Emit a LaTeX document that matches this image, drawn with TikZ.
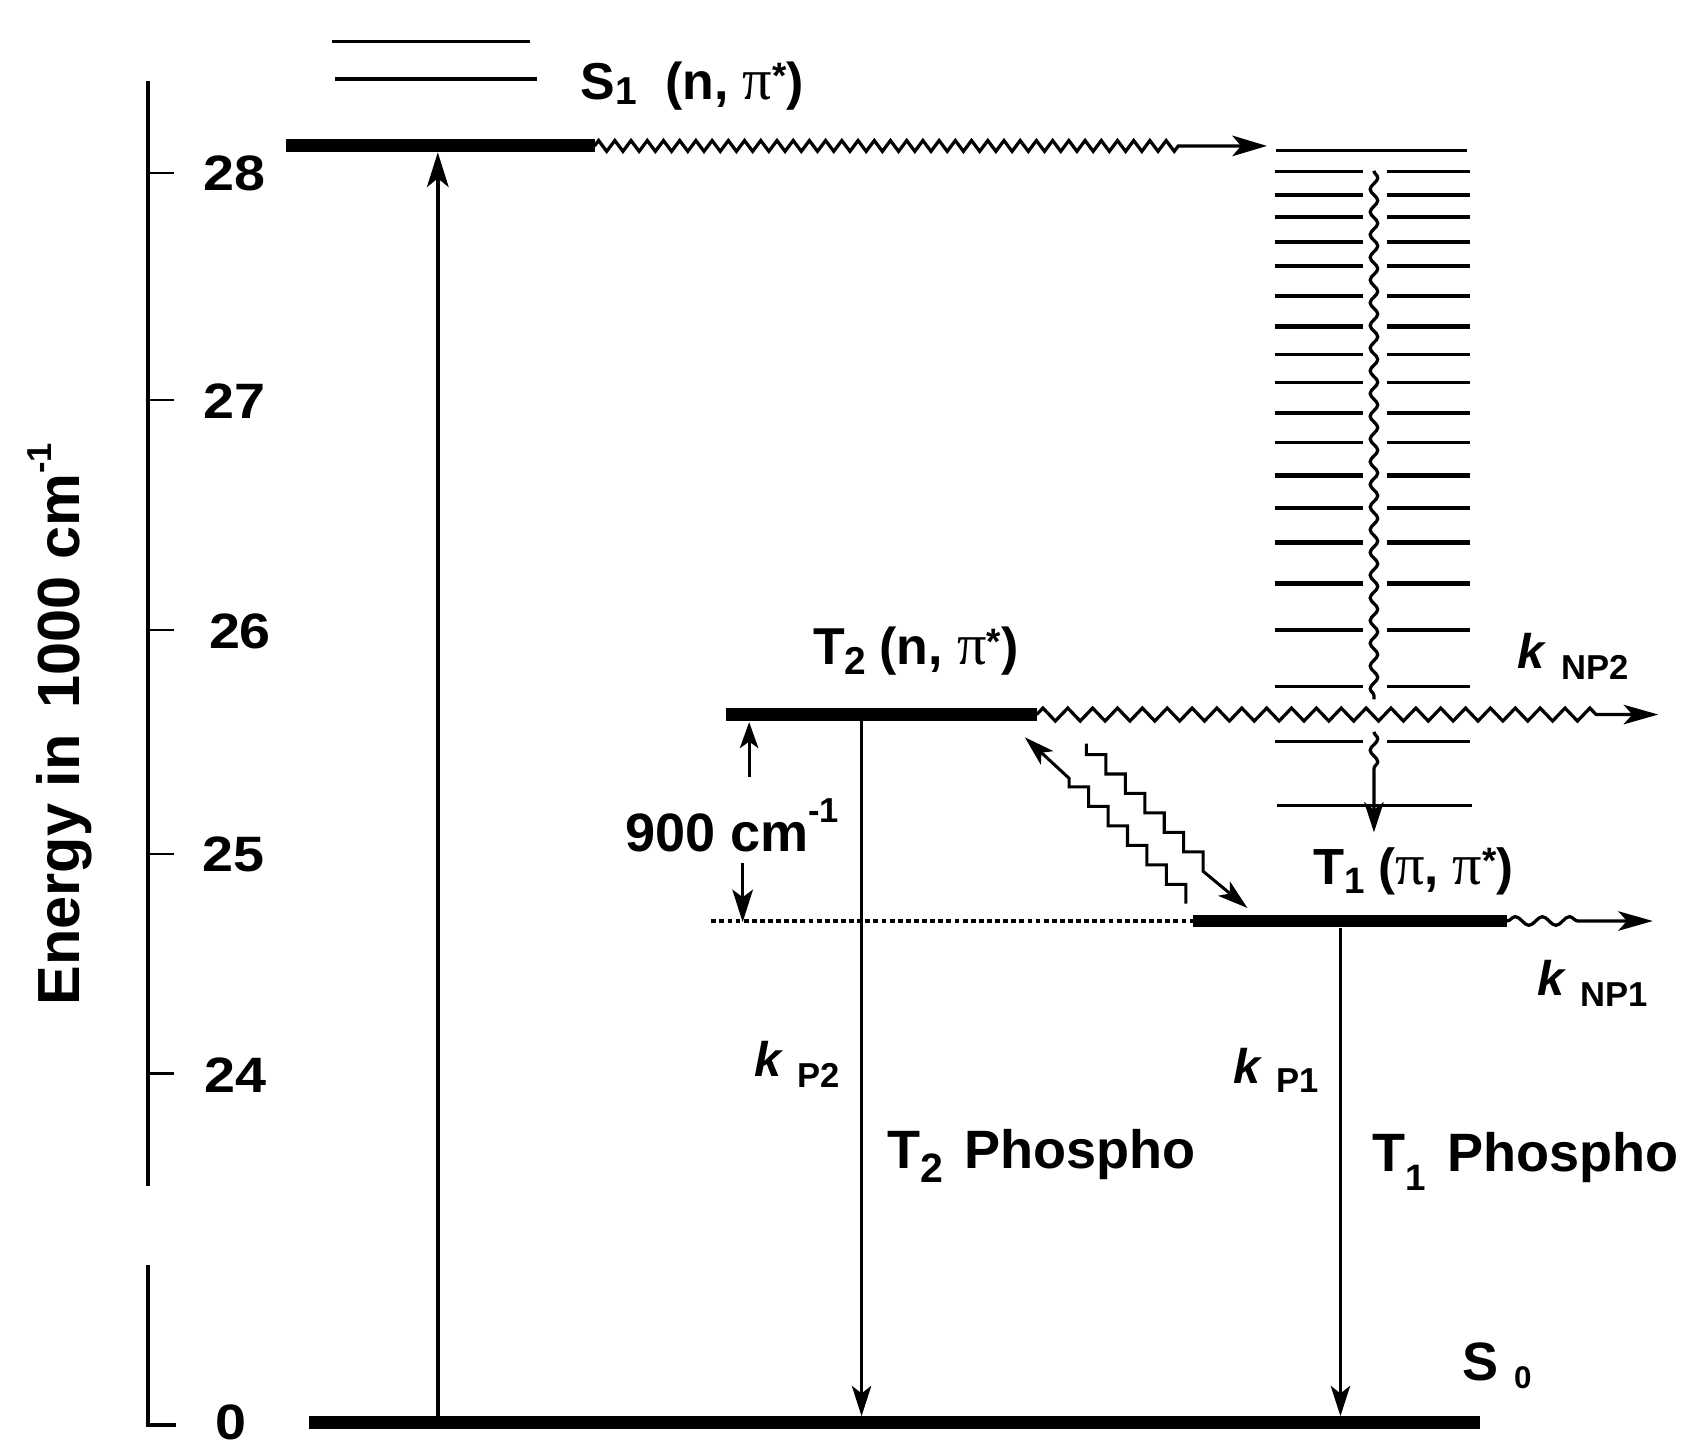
\documentclass[tikz,border=0pt]{standalone}
\usepackage{fontspec}
\setmainfont{Liberation Sans}
\newfontfamily\pif{Liberation Serif}
\usetikzlibrary{arrows.meta,decorations.pathmorphing}
\newcommand\fs[1]{\fontsize{#1pt}{#1pt}\selectfont}
\newcommand\lo[3]{\raisebox{-#1pt}{\fs{#2}#3}}
\newcommand\hi[3]{\raisebox{#1pt}{\fs{#2}#3}}
\newcommand\ppi{{\pif\mdseries\fs{54}π}}
\newcommand\wideit[1]{\scalebox{1.12}[1]{#1}}
\begin{document}
\begin{tikzpicture}[x=1pt,y=-1pt,
  axisline/.style={line width=3.8},
  tickline/.style={line width=2.2},
  lvl/.style={line width=12},
  bigarr/.style={line width=3.2,-{Stealth[length=32pt,width=20pt,inset=8pt]}},
  thinarr/.style={line width=2.4,-{Stealth[length=28pt,width=18pt,inset=7pt]}},
  diagarr/.style={line width=2.8},
  ticklab/.style={inner sep=0pt,font=\bfseries\fs{46}},
  txt/.style={inner sep=0pt,anchor=base west,font=\bfseries}]
\useasboundingbox (0,0) rectangle (1568,1346);

% ---- axis
\coordinate (axtop) at (137,75);
\coordinate (axmid) at (137,1097);
\coordinate (axlow) at (137,1170);
\coordinate (axbot) at (137,1318);
\coordinate (axbr) at (163,1318);
\draw[axisline] (axtop) -- (axmid);
\draw[axisline] (axlow) -- (axbot) -- (axbr);
\foreach \yy/\nm in {160/28,370/27,583/26,790/25,993/24}{
  \coordinate (tk\nm a) at (139,\yy);
  \coordinate (tk\nm b) at (161,\yy);
  \draw[tickline] (tk\nm a) -- (tk\nm b);
}
\node[ticklab] (l28) at (217,160) {\wideit{28}};
\node[ticklab] (l27) at (217,371) {\wideit{27}};
\node[ticklab] (l26) at (222,584) {\wideit{26}};
\node[ticklab] (l25) at (216,790) {\wideit{25}};
\node[ticklab] (l24) at (218,995) {\wideit{24}};
\node[ticklab] (l0) at (214,1316) {\wideit{0}};
\node[rotate=90,inner sep=0pt,font=\bfseries\fs{55}] (ylab) at (55,670)
  {Energy in\hspace{24pt}1000 cm\hi{26}{32}{-1}};

% ---- S1
\coordinate (v1a) at (307,38); \coordinate (v1b) at (490,38);
\coordinate (v2a) at (310,73); \coordinate (v2b) at (497,73);
\draw[line width=2.8] (v1a) -- (v1b);
\draw[line width=3.8] (v2a) -- (v2b);
\coordinate (s1L) at (265,135); \coordinate (s1R) at (550,135);
\draw[lvl] (s1L) -- (s1R);
\node[txt] (s1lab) at (537,92) {\fs{48}S\lo{5}{36}{1}\hspace{26pt}(n, \ppi\hi{10}{34}{*})};
\coordinate (iscend) at (1172,135);
\draw[line width=3,-{Stealth[length=32pt,width=19pt,inset=8pt]},decorate,
  decoration={zigzag,segment length=15pt,amplitude=5pt,post length=75pt}] (s1R) -- (iscend);

% ---- triplet manifold
\coordinate (mt1) at (1180,139); \coordinate (mt2) at (1357,139);
\draw[line width=2.8] (mt1) -- (mt2);
\foreach \yy/\ww in {159/2.8,180/3.8,201/3.3,224/4.2,246/3.3,274/3.8,302/3.8,328/3.3,354/3.3,382/3.8,409/2.8,440/4.2,470/4.2,502/4.2,540/4.2,583/4.2,635/3.2,686/3.2}{
  \draw[line width=\ww] (1179,\yy) -- (1261,\yy);
  \draw[line width=\ww] (1283,\yy) -- (1360,\yy);
}
\coordinate (mb1) at (1181,745); \coordinate (mb2) at (1362,745);
\draw[line width=2.8] (mb1) -- (mb2);
\coordinate (vw1) at (1271,158); \coordinate (vw2) at (1271,647);
\coordinate (vw3) at (1271,677); \coordinate (vw4) at (1271,770);
\draw[line width=3,decorate,decoration={snake,segment length=21pt,amplitude=3.5pt}] (vw1) -- (vw2);
\draw[line width=3,-{Stealth[length=28pt,width=18pt,inset=7pt]},decorate,
  decoration={snake,segment length=21pt,amplitude=3.5pt,post length=54pt}] (vw3) -- (vw4);

% ---- T2
\coordinate (t2L) at (672,661); \coordinate (t2R) at (959,661);
\draw[lvl] (t2L) -- (t2R);
\node[txt] (t2lab) at (752,615) {\fs{48}T\lo{9}{36}{2}\hspace{12pt}(n, \ppi\hi{10}{34}{*})};
\coordinate (np2end) at (1534,661);
\draw[line width=3,-{Stealth[length=32pt,width=18pt,inset=8pt]},decorate,
  decoration={zigzag,segment length=23pt,amplitude=6pt,post length=55pt}] (t2R) -- (np2end);
\node[txt] (knp2) at (1404,618) {\fs{45}\textit{k}\hspace{13pt}\lo{11}{32}{NP2}};

% ---- T1
\coordinate (dotL) at (658,852);
\coordinate (t1L) at (1104,852); \coordinate (t1R) at (1394,852);
\draw[line width=3,dash pattern=on 4.5pt off 3pt] (dotL) -- (t1L);
\draw[line width=11] (t1L) -- (t1R);
\node[txt] (t1lab) at (1215,818) {\fs{47}T\lo{9}{34}{1}\hspace{12pt}(\ppi, \ppi\hi{10}{34}{*})};
\coordinate (np1end) at (1529,852);
\draw[line width=3,-{Stealth[length=32pt,width=18pt,inset=8pt]},decorate,
  decoration={snake,segment length=25pt,amplitude=4pt,post length=60pt}] (t1R) -- (np1end);
\node[txt] (knp1) at (1422,921) {\fs{45}\textit{k}\hspace{13pt}\lo{10}{32}{NP1}};

% ---- 900 cm-1
\coordinate (g1) at (693,719); \coordinate (g2) at (693,668);
\coordinate (g3) at (687,798); \coordinate (g4) at (687,853);
\draw[line width=3,-{Stealth[length=24pt,width=17pt,inset=6pt]}] (g1) -- (g2);
\draw[line width=3,-{Stealth[length=30pt,width=19pt,inset=7pt]}] (g3) -- (g4);
\node[txt] (e900) at (578,788) {\fs{50}900 cm\hi{27}{32}{-1}};

% ---- T1 <-> T2 stair arrows
\coordinate (aTip) at (948,682); \coordinate (aS) at (989,720);
\draw[diagarr,{Stealth[length=28pt,width=17pt,inset=7pt]}-] (aTip) -- (aS) -- ++(0,8)
  -- ++(18,0) -- ++(0,18) -- ++(18,0) -- ++(0,18) -- ++(18,0) -- ++(0,18)
  -- ++(18,0) -- ++(0,18) -- ++(18,0) -- ++(0,18) -- ++(18,0) -- ++(0,18);
\coordinate (bS) at (1005,688); \coordinate (bTip) at (1154,840);
\draw[diagarr,-{Stealth[length=28pt,width=17pt,inset=7pt]}] (bS) -- ++(0,10)
  -- ++(18,0) -- ++(0,18) -- ++(18,0) -- ++(0,18) -- ++(18,0) -- ++(0,18)
  -- ++(18,0) -- ++(0,18) -- ++(18,0) -- ++(0,18) -- ++(18,0) -- ++(0,18) -- (bTip);

% ---- S0 and radiative arrows
\coordinate (s0L) at (286,1316); \coordinate (s0R) at (1369,1316);
\draw[lvl] (s0L) -- (s0R);
\node[txt] (s0lab) at (1353,1277) {\fs{50}S\hspace{14pt}\lo{7}{29}{0}};
\coordinate (exB) at (405,1310); \coordinate (exT) at (405,141);
\draw[bigarr] (exB) -- (exT);
\coordinate (p2T) at (797,667); \coordinate (p2B) at (797,1310);
\draw[thinarr] (p2T) -- (p2B);
\coordinate (p1T) at (1240,858); \coordinate (p1B) at (1240,1310);
\draw[thinarr] (p1T) -- (p1B);
\node[txt] (kp2) at (698,996) {\fs{45}\textit{k}\hspace{13pt}\lo{10}{32}{P2}};
\node[txt] (kp1) at (1141,1002) {\fs{45}\textit{k}\hspace{13pt}\lo{9}{32}{P1}};
\node[txt] (t2ph) at (821,1081) {\fs{50}T\lo{13}{38}{2}\hspace{19pt}Phospho};
\node[txt] (t1ph) at (1269,1084) {\fs{50}T\lo{17}{34}{1}\hspace{20pt}Phospho};
\end{tikzpicture}
\end{document}
